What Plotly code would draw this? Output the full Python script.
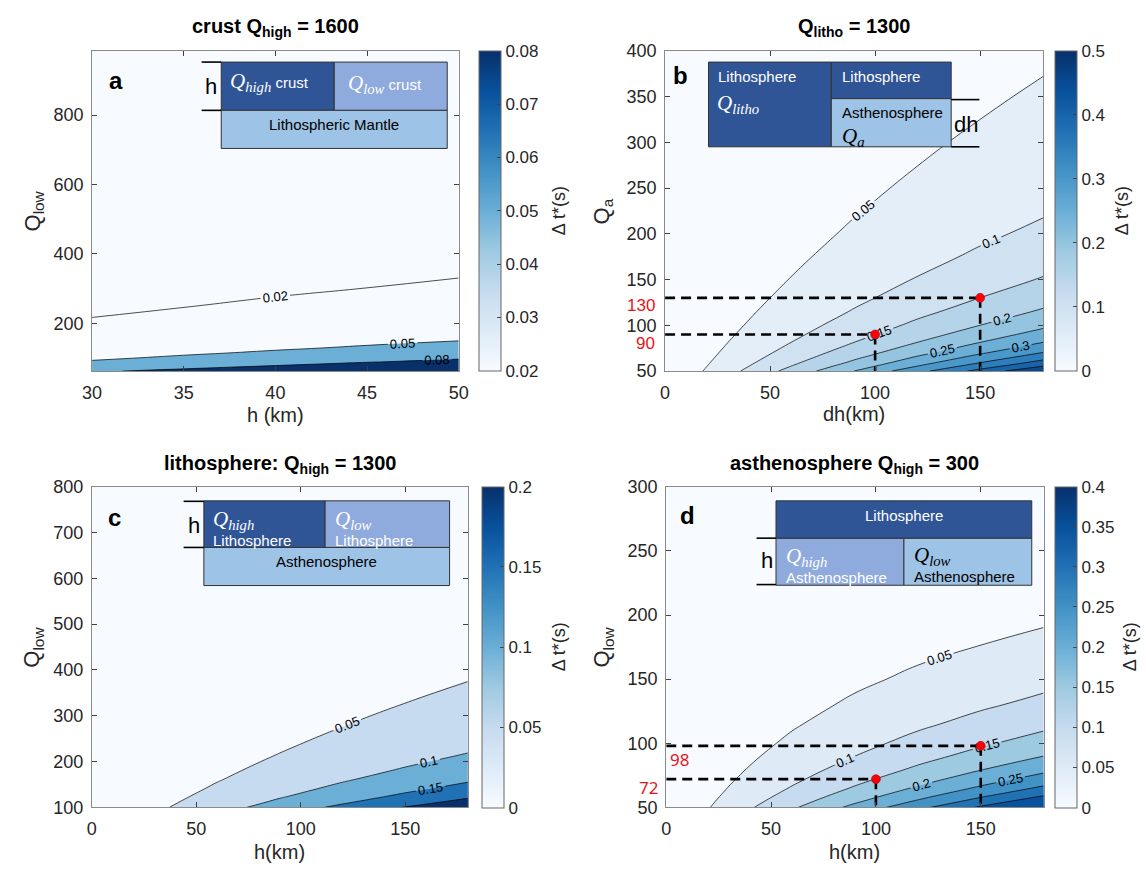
import plotly.graph_objects as go

W, H = 1146, 876

# ---------------- data ----------------
# panel a : crust Q_high = 1600
a_h = [30, 35, 40, 45, 50]
a_q = [63, 70, 80, 90, 100, 115, 130, 150, 175, 200, 250, 300, 350, 400, 600, 985]
a_dt = [
    [0.0758, 0.0884, 0.1010, 0.1136, 0.1263],
    [0.0679, 0.0792, 0.0905, 0.1018, 0.1131],
    [0.0590, 0.0688, 0.0787, 0.0885, 0.0983],
    [0.0521, 0.0608, 0.0695, 0.0781, 0.0868],
    [0.0466, 0.0543, 0.0621, 0.0699, 0.0776],
    [0.0401, 0.0468, 0.0535, 0.0601, 0.0668],
    [0.0351, 0.0410, 0.0468, 0.0527, 0.0585],
    [0.0300, 0.0350, 0.0400, 0.0450, 0.0500],
    [0.0253, 0.0295, 0.0337, 0.0379, 0.0421],
    [0.0217, 0.0254, 0.0290, 0.0326, 0.0362],
    [0.0168, 0.0196, 0.0224, 0.0252, 0.0279],
    [0.0135, 0.0157, 0.0179, 0.0202, 0.0224],
    [0.0111, 0.0129, 0.0148, 0.0166, 0.0185],
    [0.0093, 0.0109, 0.0124, 0.0140, 0.0155],
    [0.0052, 0.0060, 0.0069, 0.0078, 0.0086],
    [0.0019, 0.0023, 0.0026, 0.0029, 0.0032],
]
a_levels = [0.02, 0.05, 0.08]
a_cbar = [0.02, 0.08]
a_cticks = [0.02, 0.03, 0.04, 0.05, 0.06, 0.07, 0.08]

# panel b : Q_litho = 1300
b_dh = [0, 30, 60, 90, 120, 150, 180]
b_qa = [50, 55, 60, 70, 80, 90, 100, 115, 130, 150, 175, 200, 225, 250, 275, 300, 325, 350, 375, 400]
b_dt = [
    [0, 0.0834, 0.1667, 0.2501, 0.3335, 0.4168, 0.5002],
    [0, 0.0755, 0.1510, 0.2265, 0.3019, 0.3774, 0.4529],
    [0, 0.0689, 0.1378, 0.2067, 0.2757, 0.3446, 0.4135],
    [0, 0.0586, 0.1172, 0.1758, 0.2344, 0.2930, 0.3516],
    [0, 0.0509, 0.1017, 0.1526, 0.2034, 0.2543, 0.3051],
    [0, 0.0448, 0.0897, 0.1345, 0.1793, 0.2242, 0.2690],
    [0, 0.0400, 0.0800, 0.1201, 0.1601, 0.2001, 0.2401],
    [0, 0.0344, 0.0687, 0.1031, 0.1375, 0.1718, 0.2062],
    [0, 0.0300, 0.0600, 0.0900, 0.1200, 0.1501, 0.1801],
    [0, 0.0256, 0.0511, 0.0767, 0.1023, 0.1278, 0.1534],
    [0, 0.0214, 0.0429, 0.0643, 0.0858, 0.1072, 0.1286],
    [0, 0.0183, 0.0367, 0.0550, 0.0734, 0.0917, 0.1101],
    [0, 0.0159, 0.0319, 0.0478, 0.0637, 0.0797, 0.0956],
    [0, 0.0140, 0.0280, 0.0420, 0.0560, 0.0700, 0.0840],
    [0, 0.0124, 0.0249, 0.0373, 0.0497, 0.0621, 0.0746],
    [0, 0.0111, 0.0222, 0.0333, 0.0445, 0.0556, 0.0667],
    [0, 0.0100, 0.0200, 0.0300, 0.0400, 0.0500, 0.0600],
    [0, 0.0091, 0.0181, 0.0272, 0.0362, 0.0453, 0.0543],
    [0, 0.0082, 0.0165, 0.0247, 0.0329, 0.0411, 0.0494],
    [0, 0.0075, 0.0150, 0.0225, 0.0300, 0.0375, 0.0450],
]
b_levels = [0.05, 0.10, 0.15, 0.20, 0.25, 0.30, 0.35, 0.40, 0.45]
b_cbar = [0, 0.5]
b_cticks = [0, 0.1, 0.2, 0.3, 0.4, 0.5]
b_pts_dh = [100, 150]
b_pts_qa = [90, 130]

# panel c : lithosphere Q_high = 1300
c_h = [0, 30, 60, 90, 120, 150, 180]
c_q = [100, 110, 125, 140, 160, 180, 200, 215, 230, 245, 260, 275, 300, 325, 350, 375, 400, 450, 500, 650, 800]
c_dt = [
    [0, 0.0404, 0.0809, 0.1213, 0.1617, 0.2022, 0.2426],
    [0, 0.0365, 0.0729, 0.1094, 0.1458, 0.1823, 0.2187],
    [0, 0.0317, 0.0633, 0.0950, 0.1267, 0.1584, 0.1900],
    [0, 0.0279, 0.0558, 0.0838, 0.1117, 0.1396, 0.1675],
    [0, 0.0240, 0.0480, 0.0720, 0.0960, 0.1200, 0.1440],
    [0, 0.0210, 0.0419, 0.0629, 0.0839, 0.1048, 0.1258],
    [0, 0.0185, 0.0371, 0.0556, 0.0741, 0.0927, 0.1112],
    [0, 0.0170, 0.0340, 0.0510, 0.0680, 0.0850, 0.1020],
    [0, 0.0157, 0.0314, 0.0470, 0.0627, 0.0784, 0.0941],
    [0, 0.0145, 0.0290, 0.0435, 0.0580, 0.0726, 0.0871],
    [0, 0.0135, 0.0270, 0.0404, 0.0539, 0.0674, 0.0809],
    [0, 0.0126, 0.0251, 0.0377, 0.0502, 0.0628, 0.0753],
    [0, 0.0112, 0.0225, 0.0337, 0.0449, 0.0562, 0.0674],
    [0, 0.0101, 0.0202, 0.0303, 0.0404, 0.0505, 0.0606],
    [0, 0.0091, 0.0183, 0.0274, 0.0366, 0.0457, 0.0549],
    [0, 0.0083, 0.0166, 0.0249, 0.0333, 0.0416, 0.0499],
    [0, 0.0076, 0.0152, 0.0227, 0.0303, 0.0379, 0.0455],
    [0, 0.0064, 0.0127, 0.0191, 0.0255, 0.0318, 0.0382],
    [0, 0.0054, 0.0108, 0.0162, 0.0216, 0.0270, 0.0323],
    [0, 0.0034, 0.0067, 0.0101, 0.0135, 0.0168, 0.0202],
    [0, 0.0021, 0.0042, 0.0063, 0.0084, 0.0105, 0.0126],
]
c_levels = [0.05, 0.10, 0.15, 0.20]
c_cbar = [0, 0.2]
c_cticks = [0, 0.05, 0.1, 0.15, 0.2]

# panel d : asthenosphere Q_high = 300
d_h = [0, 30, 60, 90, 120, 150, 180]
d_q = [50, 55, 60, 65, 72, 80, 90, 100, 115, 130, 150, 175, 200, 250, 300]
d_dt = [
    [0, 0.0714, 0.1429, 0.2143, 0.2857, 0.3571, 0.4286],
    [0, 0.0636, 0.1273, 0.1909, 0.2545, 0.3182, 0.3818],
    [0, 0.0571, 0.1143, 0.1714, 0.2286, 0.2857, 0.3429],
    [0, 0.0516, 0.1033, 0.1549, 0.2066, 0.2582, 0.3099],
    [0, 0.0452, 0.0905, 0.1357, 0.1809, 0.2262, 0.2714],
    [0, 0.0393, 0.0786, 0.1179, 0.1571, 0.1964, 0.2357],
    [0, 0.0333, 0.0667, 0.1000, 0.1333, 0.1667, 0.2000],
    [0, 0.0286, 0.0571, 0.0857, 0.1143, 0.1429, 0.1714],
    [0, 0.0230, 0.0460, 0.0689, 0.0919, 0.1149, 0.1379],
    [0, 0.0187, 0.0374, 0.0560, 0.0747, 0.0934, 0.1121],
    [0, 0.0143, 0.0286, 0.0429, 0.0571, 0.0714, 0.0857],
    [0, 0.0102, 0.0204, 0.0306, 0.0408, 0.0510, 0.0612],
    [0, 0.0071, 0.0143, 0.0214, 0.0286, 0.0357, 0.0429],
    [0, 0.0029, 0.0057, 0.0086, 0.0114, 0.0143, 0.0171],
    [0, 0, 0, 0, 0, 0, 0],
]
d_levels = [0.05, 0.10, 0.15, 0.20, 0.25, 0.30, 0.35]
d_cbar = [0, 0.4]
d_cticks = [0, 0.05, 0.1, 0.15, 0.2, 0.25, 0.3, 0.35, 0.4]
d_pts_h = [100, 150]
d_pts_q = [72, 98]

# ---------------- styling helpers ----------------
FONT = "Liberation Sans, Arial, sans-serif"
TXT = "#262626"
DARK, LOW, MANTLE = "#2F5597", "#8FAADC", "#9DC3E6"

BLUES = [(0, (247, 251, 255)), (0.125, (222, 235, 247)), (0.25, (198, 219, 239)),
         (0.375, (158, 202, 225)), (0.5, (107, 174, 214)), (0.625, (66, 146, 198)),
         (0.75, (33, 113, 181)), (0.875, (8, 81, 156)), (1, (8, 48, 107))]


def blues(s):
    s = min(1.0, max(0.0, s))
    for (s0, c0), (s1, c1) in zip(BLUES[:-1], BLUES[1:]):
        if s <= s1:
            t = (s - s0) / (s1 - s0) if s1 > s0 else 0
            return "rgb(%d,%d,%d)" % tuple(round(a + (b - a) * t) for a, b in zip(c0, c1))
    return "rgb(8,48,107)"


def band_scale(levels, cmin, cmax):
    cols = [blues(0)] + [blues((L - cmin) / (cmax - cmin)) for L in levels]
    nc = len(levels)
    sc = []
    for j, c in enumerate(cols):
        lo = max(0.0, (j - 0.5) / nc)
        hi = min(1.0, (j + 0.5) / nc)
        sc += [[lo, c], [hi, c]]
    return sc


def X(p):
    return p / W


def Y(p):
    return 1 - p / H


# plot boxes in pixels: x0, x1, top, bottom
BOX = {
    "a": (83.5, 456.7, 41.7, 369.5),
    "b": (666.7, 1051.5, 41.7, 369.5),
    "c": (83.3, 466.0, 487.7, 816.0),
    "d": (667.9, 1052.0, 488.0, 816.0),
}
CBAR = {
    "a": (477.3, 41.7, 369.5),
    "b": (1063.8, 41.7, 369.5),
    "c": (480.5, 487.7, 816.0),
    "d": (1063.8, 487.7, 816.0),
}

fig = go.Figure()
layout_axes = {}
annotations = []
shapes = []

panels = [
    ("a", "", a_h, a_q, a_dt, a_levels, a_cbar, a_cticks, [30, 35, 40, 45, 50], [200, 400, 600, 800]),
    ("b", "2", b_dh, b_qa, b_dt, b_levels, b_cbar, b_cticks, [0, 50, 100, 150], [50, 100, 150, 200, 250, 300, 350, 400]),
    ("c", "3", c_h, c_q, c_dt, c_levels, c_cbar, c_cticks, [0, 50, 100, 150], [100, 200, 300, 400, 500, 600, 700, 800]),
    ("d", "4", d_h, d_q, d_dt, d_levels, d_cbar, d_cticks, [0, 50, 100, 150], [50, 100, 150, 200, 250, 300]),
]

for key, sfx, xs, ys, zz, levels, cb, cticks, xt, yt in panels:
    xa, ya = "x" + sfx, "y" + sfx
    step = round(levels[1] - levels[0], 6)
    fig.add_trace(go.Contour(
        x=xs, y=ys, z=zz, xaxis=xa, yaxis=ya,
        autocontour=False,
        contours=dict(start=levels[0], end=levels[-1], size=step, coloring="fill",
                      showlabels=True, labelformat=".2~f",
                      labelfont=dict(family=FONT, size=13, color="black")),
        colorscale=band_scale(levels, cb[0], cb[1]),
        line=dict(color="black", width=0.7, smoothing=1.3),
        showscale=False, hoverinfo="skip",
    ))
    cx, ctop, cbot = CBAR[key]
    fig.add_trace(go.Scatter(
        x=[xs[0]], y=[ys[0]], xaxis=xa, yaxis=ya, mode="markers",
        marker=dict(size=1, opacity=0, color=[cb[0]], cmin=cb[0], cmax=cb[1],
                    colorscale="Blues", showscale=True,
                    colorbar=dict(x=X(cx), xanchor="left", xpad=0, ypad=0,
                                  y=Y(ctop), yanchor="top", len=(cbot - ctop) / H, lenmode="fraction",
                                  thickness=22, thicknessmode="pixels",
                                  outlinewidth=1, outlinecolor="#666",
                                  tickvals=cticks, ticktext=["%g" % t for t in cticks],
                                  ticks="inside", ticklen=4, tickcolor="#444",
                                  tickfont=dict(family=FONT, size=17, color=TXT))),
        hoverinfo="skip", showlegend=False,
    ))
    x0, x1, top, bot = BOX[key]
    common = dict(ticks="inside", ticklen=5, tickcolor="#404040", showline=True,
                  linecolor="#8a8a8a", linewidth=1, mirror="ticks", showgrid=False,
                  zeroline=False, tickfont=dict(family=FONT, size=18, color=TXT))
    layout_axes["xaxis" + sfx] = dict(domain=[X(x0), X(x1)], range=[xs[0], xs[-1]],
                                      tickvals=xt, anchor=ya, ticklabelstandoff=5, **common)
    layout_axes["yaxis" + sfx] = dict(domain=[Y(bot), Y(top)], range=[ys[0], ys[-1]],
                                      tickvals=yt, anchor=xa, ticklabelstandoff=4, **common)

# dashed guide lines and red points (b and d)
for sfx, px_, py_, xmin, ymin, in [("2", b_pts_dh, b_pts_qa, b_dh[0], b_qa[0]),
                                   ("4", d_pts_h, d_pts_q, d_h[0], d_q[0])]:
    lx, ly = [], []
    for xv, yv in zip(px_, py_):
        lx += [xmin, xv, None, xv, xv, None]
        ly += [yv, yv, None, yv, ymin, None]
    fig.add_trace(go.Scatter(x=lx, y=ly, xaxis="x" + sfx, yaxis="y" + sfx, mode="lines",
                             line=dict(color="black", width=2.6, dash="10px,6px"),
                             hoverinfo="skip", showlegend=False))
    fig.add_trace(go.Scatter(x=px_, y=py_, xaxis="x" + sfx, yaxis="y" + sfx, mode="markers",
                             marker=dict(color="#ff0000", size=9, line=dict(color="#8b1a3a", width=0.6)),
                             hoverinfo="skip", showlegend=False))


def ann(x, y, text, size=16, color=TXT, family=FONT, xanchor="center", yanchor="middle", angle=0,
        align="center"):
    annotations.append(dict(x=X(x), y=Y(y), xref="paper", yref="paper", text=text, showarrow=False,
                            xanchor=xanchor, yanchor=yanchor, textangle=angle, align=align,
                            font=dict(family=family, size=size, color=color)))


def rect(x0, y0, x1, y1, fill):
    shapes.append(dict(type="rect", xref="paper", yref="paper", x0=X(x0), x1=X(x1), y0=Y(y1), y1=Y(y0),
                       fillcolor=fill, line=dict(color="#333333", width=1), layer="above"))


def hline(x0, x1, y):
    shapes.append(dict(type="line", xref="paper", yref="paper", x0=X(x0), x1=X(x1), y0=Y(y), y1=Y(y),
                       line=dict(color="black", width=1.6), layer="above"))


# titles
ann(270, 18, "<b>crust Q<sub>high</sub> = 1600</b>", size=20, color="black")
ann(859, 18, "<b>Q<sub>litho</sub> = 1300</b>", size=20, color="black")
ann(274.7, 465, "<b>lithosphere: Q<sub>high</sub> = 1300</b>", size=20, color="black")
ann(860, 465, "<b>asthenosphere Q<sub>high</sub> = 300</b>", size=20, color="black")

# axis titles
ann(270, 414, "h (km)", size=20)
ann(859, 413, "dh(km)", size=20)
ann(274.7, 862, "h(km)", size=20)
ann(860, 862, "h(km)", size=20)
ann(24, 205.6, "Q<sub>low</sub>", size=22, angle=-90)
ann(603, 205.6, "Q<sub>a</sub>", size=22, angle=-90)
ann(24, 652, "Q<sub>low</sub>", size=22, angle=-90)
ann(604, 652, "Q<sub>low</sub>", size=22, angle=-90)

# colorbar titles
ann(559, 205.6, "Δ t*(s)", size=18, angle=-90)
ann(1132, 205.6, "Δ t*(s)", size=18, angle=-90)
ann(559, 652, "Δ t*(s)", size=18, angle=-90)
ann(1140, 652, "Δ t*(s)", size=18, angle=-90)

# panel letters
ann(108, 72, "<b>a</b>", size=24, color="black")
ann(682, 67, "<b>b</b>", size=24, color="black")
ann(106.7, 519, "<b>c</b>", size=24, color="black")
ann(690, 517, "<b>d</b>", size=24, color="black")

# red value labels
ann(659, 302, str(b_pts_qa[1]), size=17, color="#e8141a", xanchor="right")
ann(659, 341, str(b_pts_qa[0]), size=17, color="#e8141a", xanchor="right")
ann(670, 767, str(d_pts_q[1]), size=17, color="#e8141a", xanchor="left", family="Noto Sans, sans-serif")
ann(662, 796, str(d_pts_q[0]), size=17, color="#e8141a", xanchor="right", family="Noto Sans, sans-serif")


def qmath(name, size=21):
    return ('<span style="font-family:Liberation Serif;font-size:%dpx"><i>Q</i><sub><i>%s</i></sub></span>'
            % (size, name))


# inset a
rect(215, 53.3, 330, 102.7, DARK)
rect(330, 53.3, 445, 102.7, LOW)
rect(215, 102.7, 445, 141.7, MANTLE)
hline(195, 215, 53.3)
hline(195, 215, 102.7)
ann(205, 78, "h", size=22, color="black")
ann(222, 74, qmath("high") + " crust", size=15, color="white", xanchor="left")
ann(342, 76, qmath("low") + " crust", size=15, color="white", xanchor="left")
ann(330, 117.5, "Lithospheric Mantle", size=15, color="black")

# inset b
rect(710.9, 53.3, 835.9, 140, DARK)
rect(835.9, 53.3, 957.9, 90.7, DARK)
rect(835.9, 90.7, 957.9, 140, MANTLE)
hline(957.9, 986.6, 91.7)
hline(957.9, 986.6, 140)
ann(973, 117, "dh", size=22, color="black")
ann(719, 68, "Lithosphere", size=15, color="white", xanchor="left")
ann(718, 96, qmath("litho"), size=15, color="white", xanchor="left")
ann(845, 68, "Lithosphere", size=15, color="white", xanchor="left")
ann(845, 105, "Asthenosphere", size=15, color="black", xanchor="left")
ann(845, 130, '<span style="font-family:Liberation Serif;font-size:21px"><i>Q<sub>a</sub></i></span>',
    size=15, color="black", xanchor="left")

# inset c
rect(197.3, 502.3, 320.7, 550, DARK)
rect(320.7, 502.3, 447.4, 550, LOW)
rect(197.3, 550, 447.4, 589, MANTLE)
hline(176.7, 197.3, 502.8)
hline(176.7, 197.3, 550)
ann(187, 528, "h", size=22, color="black")
ann(205, 530, qmath("high") + "<br>Lithosphere", size=15, color="white", xanchor="left", align="left")
ann(329, 530, qmath("low") + "<br>Lithosphere", size=15, color="white", xanchor="left", align="left")
ann(322.3, 564.5, "Asthenosphere", size=15, color="black")

# inset d
rect(779.6, 502.3, 1039.9, 540.7, DARK)
rect(779.6, 540.7, 909.8, 588.7, LOW)
rect(909.8, 540.7, 1039.9, 588.7, MANTLE)
hline(759.8, 779.6, 540.5)
hline(759.8, 779.6, 588)
ann(770, 563, "h", size=22, color="black")
ann(909.8, 517, "Lithosphere", size=15, color="white")
ann(788, 568, qmath("high") + "<br>Asthenosphere", size=15, color="white", xanchor="left", align="left")
ann(918.5, 567, qmath("low") + "<br>Asthenosphere", size=15, color="black", xanchor="left", align="left")

fig.update_layout(
    width=W, height=H, margin=dict(l=0, r=0, t=0, b=0),
    paper_bgcolor="white", plot_bgcolor="white", showlegend=False,
    font=dict(family=FONT, color=TXT),
    annotations=annotations, shapes=shapes, **layout_axes,
)

fig.write_html("out.html")
